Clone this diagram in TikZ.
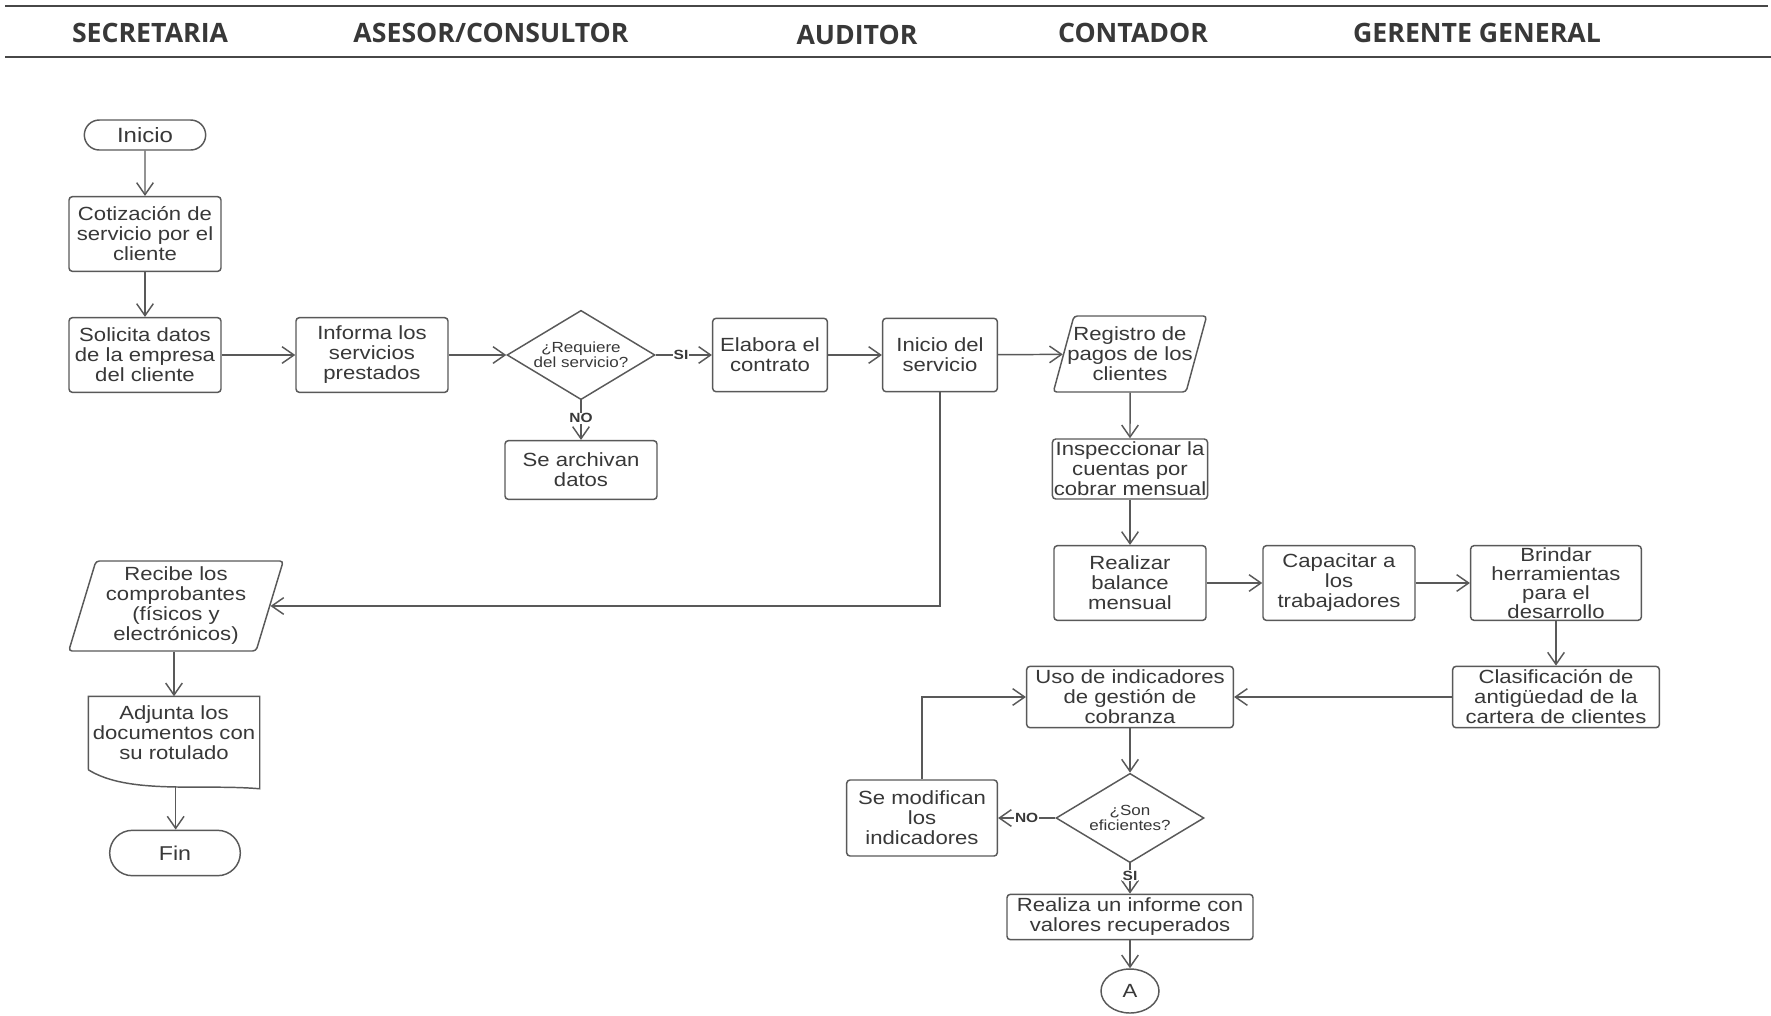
\documentclass[tikz,border=0pt]{standalone}
\usepackage{fontspec}
\usepackage{tikz}
\usetikzlibrary{arrows.meta,positioning,shapes.geometric,shapes.misc,calc}
\newfontfamily\boxfont{Liberation Sans}[FakeStretch=1.16]
\newfontfamily\headfont{Open Sans}
\definecolor{Ink}{HTML}{383838}
\definecolor{Wire}{HTML}{595959}
\definecolor{Rule}{HTML}{474747}

\begin{document}
\begin{tikzpicture}[
  x=0.75pt,y=-0.75pt,
  proc/.style={
    draw=Wire,
    line width=1.1pt,
    fill=white,
    rounded corners=2.5pt,
    minimum width=114pt,
    minimum height=56pt,
    inner sep=1pt,
    align=center,
    text=Ink,
    font=\boxfont\fontsize{14.3}{15}\selectfont
  },
  term/.style={proc,sharp corners,rounded rectangle},
  data/.style={proc,trapezium,trapezium left angle=70,trapezium right angle=110,
    trapezium stretches=true,inner xsep=-5pt,minimum width=112.5pt,minimum height=57pt},
  decision/.style={proc,sharp corners,diamond,aspect=1.66,inner sep=0pt,
    minimum width=111pt,minimum height=67pt,font=\boxfont\fontsize{11}{11.3}\selectfont},
  link/.style={proc,sharp corners,ellipse,minimum width=43.5pt,minimum height=33pt},
  head/.style={text=Ink,font=\headfont\bfseries\fontsize{20}{23}\selectfont},
  flag/.style={fill=white,inner sep=0.6pt,text=Ink,font=\boxfont\bfseries\fontsize{10}{10}\selectfont},
  arrow/.style={-{Straight Barb[length=9pt,width=12.5pt]},line width=1.1pt,draw=Wire},
  rulerline/.style={line width=2.2pt,draw=Rule}
]
\useasboundingbox (0,0) rectangle (1771,1015);

\draw[rulerline] (5,6) -- (1768,6);
\draw[rulerline] (5,57) -- (1771,57);
\node[head] (secretaria) at (150,33) {SECRETARIA};
\node[head] (asesor) at (491,33) {ASESOR/CONSULTOR};
\node[head] (auditor) at (857,35) {AUDITOR};
\node[head] (contador) at (1133,33) {CONTADOR};
\node[head] (gerente) at (1477,33) {GERENTE GENERAL};

\node[term,minimum width=93pt,minimum height=22.5pt,font=\boxfont\fontsize{15.5}{16}\selectfont] (inicio) at (145,135) {Inicio};
\node[proc] (cotizacion) at (145,234) {Cotización de\\servicio por el\\cliente};
\node[proc] (solicita) at (145,355) {Solicita datos\\de la empresa\\del cliente};
\node[proc] (informa) at (372,355) {Informa los\\servicios\\prestados};
\node[decision] (requiere) at (581,355) {¿Requiere\\del servicio?};
\node[proc,minimum width=86pt,minimum height=55pt] (contrato) at (770,355) {Elabora el\\contrato};
\node[proc,minimum width=86pt,minimum height=55pt] (servicio) at (940,355) {Inicio del\\servicio};
\node[data] (registro) at (1130,354) {Registro de\\pagos de los\\clientes};
\node[proc,minimum height=44pt] (archivo) at (581,470) {Se archivan\\datos};
\node[proc,minimum height=45pt] (inspeccion) at (1130,469) {Inspeccionar la\\cuentas por\\cobrar mensual};
\node[proc] (balance) at (1130,583) {Realizar\\balance\\mensual};
\node[proc] (capacitar) at (1339,583) {Capacitar a\\los\\trabajadores};
\node[proc,minimum width=128pt,inner sep=0pt,font=\boxfont\fontsize{14.3}{14.4}\selectfont] (herramientas) at (1556,583) {Brindar\\herramientas\\para el\\desarrollo};
\node[proc,minimum width=155pt,minimum height=46pt] (clasificacion) at (1556,697) {Clasificación de\\antigüedad de la\\cartera de clientes};
\node[proc,minimum width=155pt,minimum height=46pt] (indicadores) at (1130,697) {Uso de indicadores\\de gestión de\\cobranza};
\node[decision] (eficientes) at (1130,818) {¿Son\\eficientes?};
\node[proc,minimum width=113pt,minimum height=57pt] (modifican) at (922,818) {Se modifican\\los\\indicadores};
\node[proc,minimum width=184.5pt,minimum height=34pt] (informe) at (1130,917) {Realiza un informe con\\valores recuperados};
\node[link] (conectorA) at (1130,991) {A};

\node[data,trapezium left angle=75,trapezium right angle=105,minimum width=161pt,minimum height=67.5pt] (comprobantes) at (176,606) {Recibe los\\comprobantes\\(físicos y\\electrónicos)};
\node[proc,draw=none,minimum width=127.5pt,minimum height=54pt] (adjunta) at (174,733) {Adjunta los\\documentos con\\su rotulado};
\draw[draw=Wire,line width=1.1pt] (adjunta.south west) -- (adjunta.north west) -- (adjunta.north east)
  -- ($(adjunta.south east)+(0,19)$) .. controls +(-60,-5) and +(40,25) .. coordinate[pos=0.45] (onda) (adjunta.south west);
\node[term,minimum width=100pt,minimum height=34pt,font=\boxfont\fontsize{15}{16}\selectfont] (fin) at (175,853) {Fin};

\draw[arrow] (inicio) -- (cotizacion);
\draw[arrow] (cotizacion) -- (solicita);
\draw[arrow] (solicita) -- (informa);
\draw[arrow] (informa) -- (requiere);
\draw[arrow] (requiere) -- node[flag,pos=0.45]{SI} (contrato);
\draw[arrow] (requiere) -- node[flag,pos=0.45]{NO} (archivo);
\draw[arrow] (contrato) -- (servicio);
\draw[arrow] (servicio) -- (registro);
\draw[arrow] (servicio.south) |- (comprobantes.east);
\draw[arrow] (registro) -- (inspeccion);
\draw[arrow] (inspeccion) -- (balance);
\draw[arrow] (balance) -- (capacitar);
\draw[arrow] (capacitar) -- (herramientas);
\draw[arrow] (herramientas) -- (clasificacion);
\draw[arrow] (clasificacion) -- (indicadores);
\draw[arrow] (indicadores) -- (eficientes);
\draw[arrow] (eficientes) -- node[flag,pos=0.5]{NO} (modifican);
\draw[arrow] (modifican.north) |- (indicadores.west);
\draw[arrow] (eficientes) -- node[flag,pos=0.4]{SI} (informe);
\draw[arrow] (informe) -- (conectorA);
\draw[arrow] (adjunta.north |- comprobantes.south) -- (adjunta.north);
\draw[arrow] (onda) -- (onda |- fin.north);
\end{tikzpicture}
\end{document}
